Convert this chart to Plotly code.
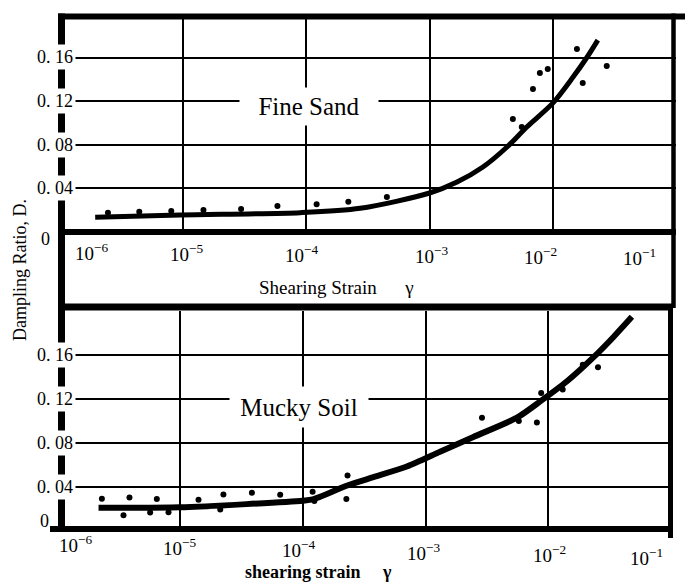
import math
import plotly.graph_objects as go

W, H = 689, 584

# ---------------- data ----------------
# Fine Sand: measured points
sand_pts_x = [2.45e-6, 4.4e-6, 8.0e-6, 1.46e-5, 2.95e-5, 5.82e-5, 1.21e-4, 2.19e-4,
              4.5e-4, 4.74e-3, 5.6e-3, 6.9e-3, 7.85e-3, 9.1e-3, 1.57e-2, 1.75e-2, 2.74e-2]
sand_pts_y = [0.0173, 0.0182, 0.0189, 0.0198, 0.0207, 0.0234, 0.0250, 0.0274,
              0.0317, 0.1034, 0.0961, 0.1310, 0.1457, 0.1494, 0.1678, 0.1366, 0.1522]
# Fine Sand: fitted curve
sand_curve_x = [1.93e-6, 9.45e-6, 8.9e-5, 2.73e-4, 1e-3, 1.67e-3, 2.71e-3,
                4.25e-3, 6.15e-3, 1e-2, 1.46e-2, 1.89e-2, 2.32e-2]
sand_curve_y = [0.0131, 0.0152, 0.0173, 0.0213, 0.0354, 0.0455, 0.0593,
                0.0777, 0.0961, 0.1180, 0.1420, 0.1600, 0.1760]

# Mucky Soil: measured points
muck_pts_x = [2.30e-6, 3.86e-6, 3.45e-6, 6.45e-6, 5.69e-6, 8.03e-6, 1.41e-5, 2.25e-5,
              2.12e-5, 3.84e-5, 6.53e-5, 1.20e-4, 1.24e-4, 2.31e-4, 2.26e-4, 2.88e-3,
              5.75e-3, 8.07e-3, 8.75e-3, 1.31e-2, 1.91e-2, 2.54e-2]
muck_pts_y = [0.0293, 0.0305, 0.0144, 0.0291, 0.0168, 0.0170, 0.0283, 0.0331,
              0.0195, 0.0347, 0.0329, 0.0357, 0.0273, 0.0505, 0.0292, 0.1029,
              0.1000, 0.0987, 0.1255, 0.1287, 0.1511, 0.1488]
# Mucky Soil: fitted curve
muck_curve_x = [2.16e-6, 1e-5, 1e-4, 1.2e-4, 2.3e-4, 3.76e-4, 7.03e-4, 1.31e-3,
                2.45e-3, 5.55e-3, 8.59e-3, 1.42e-2, 2.34e-2, 3.4e-2, 4.8e-2]
muck_curve_y = [0.0211, 0.0215, 0.0276, 0.0287, 0.0414, 0.0490, 0.0586, 0.0720,
                0.0855, 0.1030, 0.1178, 0.1361, 0.1580, 0.1764, 0.1947]

# axis ticks / labels
x_grid_vals = [1e-6, 1e-5, 1e-4, 1e-3, 1e-2, 1e-1]
x_tick_text = ["10<sup>\u22126</sup>", "10<sup>\u22125</sup>", "10<sup>\u22124</sup>",
               "10<sup>\u22123</sup>", "10<sup>\u22122</sup>", "10<sup>\u22121</sup>"]
top_label_pos = [1.8e-6, 1.06e-5, 9.2e-5, 1.03e-3, 8.0e-3, 5.1e-2]
bot_label_pos = [1.39e-6, 9.8e-6, 9.2e-5, 9.6e-4, 1.02e-2, 6.3e-2]
y_tick_vals = [0.04, 0.08, 0.12, 0.16]
y_tick_text = ["0. 04", "0. 08", "0. 12", "0. 16"]
zero_text = "0"

panel_labels = ["Fine Sand", "Mucky Soil"]
panel_label_x = [1.05e-4, 9.33e-5]
panel_label_y = [0.115, 0.1127]
top_x_title = "Shearing Strain"
bot_x_title = "shearing strain"
gamma = "\u03b3"
y_title = "Dampling Ratio, D."

FONT = "Liberation Serif"


def px(x):
    return x / W


def py(y):
    return 1 - y / H


fig = go.Figure()

fig.add_trace(go.Scatter(x=sand_curve_x, y=sand_curve_y, mode="lines",
                         line=dict(color="black", width=5, shape="spline", smoothing=0.8),
                         xaxis="x", yaxis="y", showlegend=False, hoverinfo="skip"))
fig.add_trace(go.Scatter(x=sand_pts_x, y=sand_pts_y, mode="markers",
                         marker=dict(color="black", size=6),
                         xaxis="x", yaxis="y", showlegend=False))
fig.add_trace(go.Scatter(x=muck_curve_x, y=muck_curve_y, mode="lines",
                         line=dict(color="black", width=6, shape="spline", smoothing=0.7),
                         xaxis="x2", yaxis="y2", showlegend=False, hoverinfo="skip"))
fig.add_trace(go.Scatter(x=muck_pts_x, y=muck_pts_y, mode="markers",
                         marker=dict(color="black", size=6),
                         xaxis="x2", yaxis="y2", showlegend=False))

grid = dict(showgrid=True, gridcolor="black", gridwidth=1.5, zeroline=False,
            showline=False, ticks="", showticklabels=False)

top_dom_x = [px(60), px(676)]
bot_dom_x = [px(57.5), px(671)]
top_dom_y = [py(231.5), py(14)]
bot_dom_y = [py(531), py(311)]

fig.update_layout(
    width=W, height=H,
    margin=dict(l=0, r=0, t=0, b=0),
    paper_bgcolor="white", plot_bgcolor="white",
    xaxis=dict(type="log", range=[-6, -1], domain=top_dom_x, anchor="y",
               tickvals=x_grid_vals, **grid),
    yaxis=dict(range=[0, 0.2], domain=top_dom_y, anchor="x",
               tickvals=y_tick_vals, **grid),
    xaxis2=dict(type="log", range=[-6, -1], domain=bot_dom_x, anchor="y2",
                tickvals=x_grid_vals, **grid),
    yaxis2=dict(range=[0, 0.2], domain=bot_dom_y, anchor="x2",
                tickvals=y_tick_vals, **grid),
    showlegend=False,
)

# ---------------- frame (thick border lines) ----------------
shapes = []


def seg(x0, y0, x1, y1, w):
    shapes.append(dict(type="line", xref="paper", yref="paper",
                       x0=px(x0), y0=py(y0), x1=px(x1), y1=py(y1),
                       line=dict(color="black", width=w), layer="above"))


seg(58, 16.5, 685, 16.5, 6)      # top border
seg(61.5, 13.5, 61.5, 532, 7)    # left spine
seg(673.5, 13.5, 673.5, 308, 4.5)  # right border (top part)
seg(670.5, 306, 670.5, 538, 5)   # right border (bottom part)
seg(58, 232, 676, 232, 6)        # top panel zero line
seg(58, 307, 673, 307, 7)        # separator
seg(50, 529, 673, 529, 6)        # bottom panel zero line
fig.update_layout(shapes=shapes)

# ---------------- annotations ----------------
ann = []
tick_font = dict(family=FONT, size=18, color="black")
xlab_font = dict(family=FONT, size=19, color="black")

# y tick labels (white box breaks the left spine like in the print)
for yref in ["y", "y2"]:
    for v, t in zip(y_tick_vals, y_tick_text):
        ann.append(dict(x=px(55), xref="paper", y=v, yref=yref, text=t,
                        showarrow=False, font=tick_font, bgcolor="white",
                        borderpad=2, xanchor="center", yanchor="middle"))
ann.append(dict(x=px(45), xref="paper", y=0, yref="y", yshift=-7, text=zero_text,
                showarrow=False, font=tick_font, xanchor="center", yanchor="middle"))
ann.append(dict(x=px(44), xref="paper", y=0, yref="y2", yshift=10, text=zero_text,
                showarrow=False, font=tick_font, xanchor="center", yanchor="middle"))

# x tick labels (log axis -> annotation x in log10 units)
for i, (v, t) in enumerate(zip(top_label_pos, x_tick_text)):
    ann.append(dict(x=math.log10(v), xref="x", y=py(252 + 1.0 * i), yref="paper",
                    text=t, showarrow=False, font=xlab_font,
                    xanchor="center", yanchor="middle"))
for i, (v, t) in enumerate(zip(bot_label_pos, x_tick_text)):
    ann.append(dict(x=math.log10(v), xref="x2", y=py(544 + 2.6 * i), yref="paper",
                    text=t, showarrow=False, font=xlab_font,
                    xanchor="center", yanchor="middle"))

# panel labels (white box interrupts the grid)
for k, (xr, yr, hh) in enumerate([("x", "y", 37), ("x2", "y2", 40)]):
    ann.append(dict(x=math.log10(panel_label_x[k]), y=panel_label_y[k], xref=xr, yref=yr,
                    text=panel_labels[k], showarrow=False,
                    font=dict(family=FONT, size=25, color="black"),
                    bgcolor="white", width=138, height=hh, borderpad=0))

# axis titles
nb = "\u00a0"
ann.append(dict(x=px(257), y=py(287), xref="paper", yref="paper",
                text=top_x_title + nb * 6 + gamma, showarrow=False,
                font=dict(family=FONT, size=19, color="black"),
                xanchor="left", yanchor="middle"))
ann.append(dict(x=px(243), y=py(572), xref="paper", yref="paper",
                text="<b>" + bot_x_title + nb * 5 + gamma + "</b>", showarrow=False,
                font=dict(family=FONT, size=18, color="black"),
                xanchor="left", yanchor="middle"))
ann.append(dict(x=px(20), y=py(270), xref="paper", yref="paper",
                text=y_title, textangle=-90, showarrow=False,
                font=dict(family=FONT, size=18, color="black"),
                xanchor="center", yanchor="middle"))
fig.update_layout(annotations=ann)

fig.write_html("out.html")
